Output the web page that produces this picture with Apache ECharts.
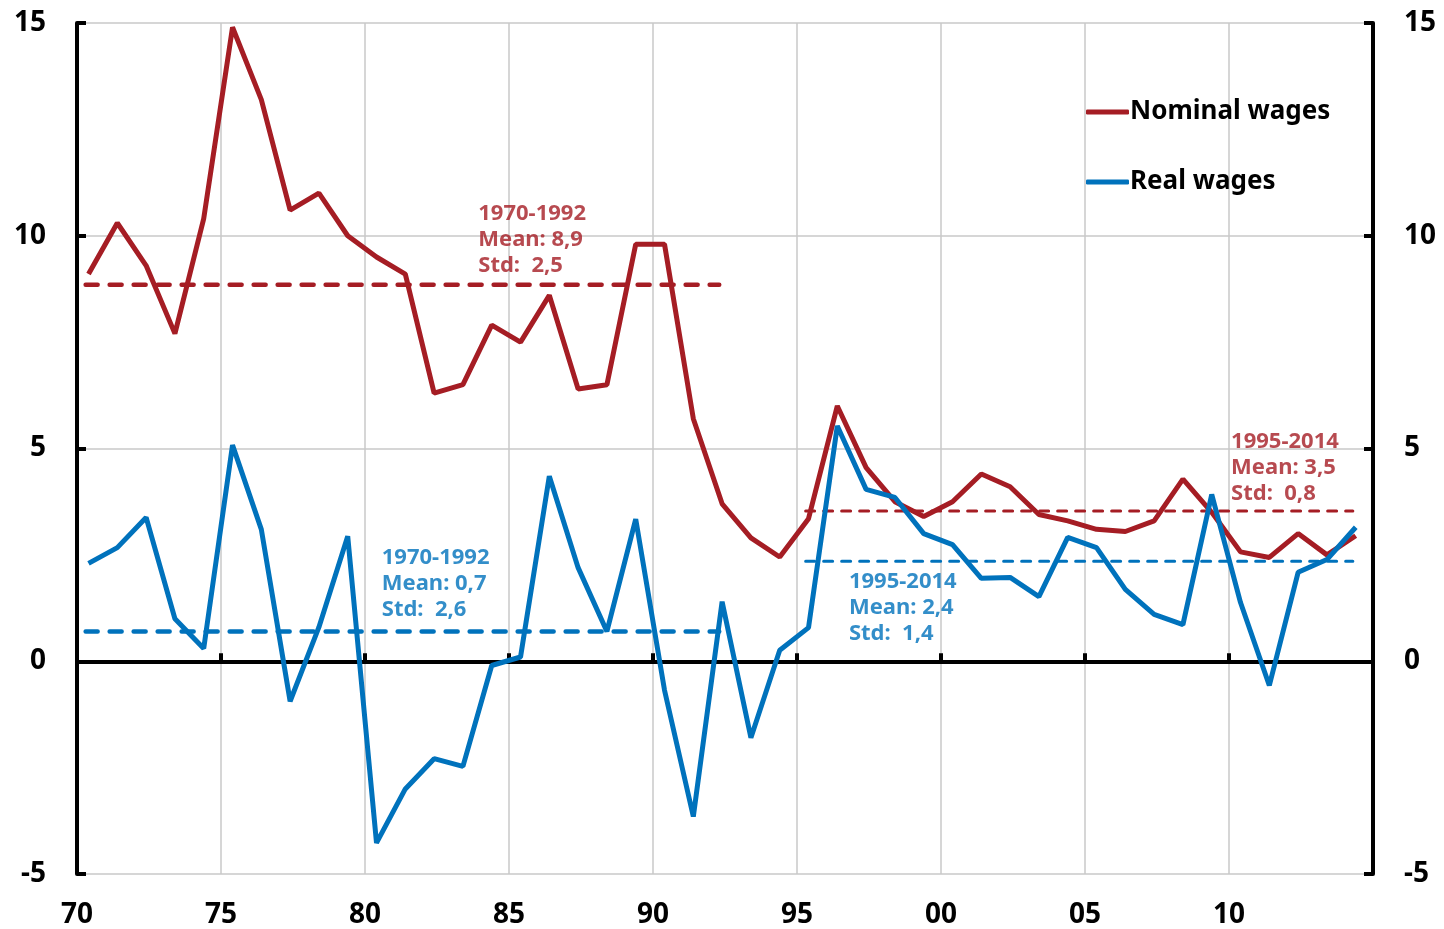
<!DOCTYPE html>
<html>
<head>
<meta charset="utf-8">
<script src="https://cdn.jsdelivr.net/npm/echarts@6/dist/echarts.min.js"></script>
<style>
  html, body { margin: 0; padding: 0; background: #fff; }
  #chart { width: 1444px; height: 929px; }
</style>
</head>
<body>
<div id="chart"></div>
<script>
// annual wage growth, %
const years = [
  1970, 1971, 1972, 1973, 1974, 1975, 1976, 1977, 1978, 1979,
  1980, 1981, 1982, 1983, 1984, 1985, 1986, 1987, 1988, 1989,
  1990, 1991, 1992, 1993, 1994, 1995, 1996, 1997, 1998, 1999,
  2000, 2001, 2002, 2003, 2004, 2005, 2006, 2007, 2008, 2009,
  2010, 2011, 2012, 2013, 2014
]
const nominalWages = [
  9.1, 10.3, 9.3, 7.7, 10.4, 14.9, 13.2, 10.6, 11.0, 10.0,
  9.5, 9.1, 6.3, 6.5, 7.9, 7.5, 8.6, 6.4, 6.5, 9.8,
  9.8, 5.7, 3.7, 2.9, 2.45, 3.35, 6.0, 4.55, 3.75, 3.4,
  3.75, 4.4, 4.1, 3.45, 3.3, 3.1, 3.05, 3.3, 4.28, 3.5,
  2.57, 2.44, 3.0, 2.5, 2.95
]
const realWages = [
  2.3, 2.67, 3.38, 1.0, 0.3, 5.08, 3.1, -0.94, 0.8, 2.94,
  -4.27, -3.0, -2.29, -2.47, -0.1, 0.1, 4.35, 2.2, 0.7, 3.34,
  -0.68, -3.65, 1.4, -1.8, 0.26, 0.79, 5.53, 4.04, 3.85, 3.0,
  2.74, 1.95, 1.97, 1.52, 2.91, 2.67, 1.69, 1.1, 0.86, 3.92,
  1.38, -0.57, 2.09, 2.39, 3.15
]

// sub-period means
const periods = [[1970, 1992], [1995, 2014]]
const nominalMeans = [8.85, 3.53]
const realMeans = [0.7, 2.35]
const nominalNotes = ["1970-1992\nMean: 8,9\nStd:  2,5", "1995-2014\nMean: 3,5\nStd:  0,8"]
const realNotes = ["1970-1992\nMean: 0,7\nStd:  2,6", "1995-2014\nMean: 2,4\nStd:  1,4"]
// where each note's top-left corner sits, in data units
const nominalNoteAt = [[1983.95, 10.8], [2010.09, 5.46]]
const realNoteAt = [[1980.6, 2.72], [1996.82, 2.17]]

const yTicks = [-5, 0, 5, 10, 15]

const RED = "#a51d24"
const BLUE = "#0072bc"
const FONT = "Noto Sans"
const SHIFT = 0.4 // annual points sit a bit into the year

const chart = echarts.init(document.getElementById("chart"))

const pts = (vals) => years.map((y, i) => [y + SHIFT, vals[i]])

const meanSeries = (name, means, color, idx, width, dash) => ({
  name: name,
  type: "line",
  symbol: "none",
  silent: true,
  z: 1,
  lineStyle: { color: color, width: width, type: dash, cap: "round" },
  data: [
    [periods[idx][0] + SHIFT - 0.1, means[idx]],
    [periods[idx][1] + SHIFT - 0.1, means[idx]],
  ],
})

const noteSeries = (notes, at, color) => ({
  type: "scatter",
  symbolSize: 1,
  silent: true,
  itemStyle: { color: "rgba(0,0,0,0)" },
  label: {
    show: true,
    position: [0, 0],
    align: "left",
    verticalAlign: "top",
    color: color,
    fontFamily: FONT,
    fontWeight: "bold",
    fontSize: 22,
    lineHeight: 26,
    formatter: (p) => notes[p.dataIndex],
  },
  data: at,
})

const yAxisBase = {
  type: "value",
  min: yTicks[0],
  max: yTicks[yTicks.length - 1],
  interval: 5,
  axisLine: { show: true, onZero: false, lineStyle: { color: "#000", width: 4 } },
  axisTick: { show: true, inside: true, length: 9, lineStyle: { color: "#000", width: 4 } },
  axisLabel: { color: "#000", fontFamily: FONT, fontWeight: "bold", fontSize: 28, margin: 31 },
}

const option = {
  animation: false,
  backgroundColor: "#fff",
  grid: { left: 77, right: 71, top: 23, bottom: 54 },
  legend: {
    data: ["Nominal wages", "Real wages"],
    orient: "vertical",
    left: 1086,
    top: 99,
    padding: 0,
    icon: "roundRect",
    itemWidth: 43,
    itemHeight: 5,
    itemGap: 44,
    textStyle: { color: "#000", fontFamily: FONT, fontWeight: "bold", fontSize: 26, padding: [0, 0, 0, -4] },
  },
  xAxis: [
    {
      type: "value",
      position: "bottom",
      min: 1970,
      max: 2015,
      interval: 5,
      axisLine: { show: false, onZero: false },
      axisTick: { show: false },
      axisLabel: {
        color: "#000",
        fontFamily: FONT,
        fontWeight: "bold",
        fontSize: 28,
        margin: 27,
        formatter: (v) => (v >= 2015 ? "" : String(v).slice(2)),
      },
      splitLine: { show: true, lineStyle: { color: "#c8c8c8", width: 1.5 } },
    },
    {
      type: "value",
      position: "bottom",
      min: 1970,
      max: 2015,
      interval: 5,
      axisLine: { show: true, onZero: true, lineStyle: { color: "#000", width: 4 } },
      axisTick: { show: true, inside: true, length: 8, lineStyle: { color: "#000", width: 4 } },
      axisLabel: { show: false },
      splitLine: { show: false },
    },
  ],
  yAxis: [
    {
      ...yAxisBase,
      position: "left",
      splitLine: { show: true, lineStyle: { color: "#c8c8c8", width: 1.5 } },
    },
    {
      ...yAxisBase,
      position: "right",
      splitLine: { show: false },
    },
  ],
  series: [
    meanSeries("nominal mean 1", nominalMeans, RED, 0, 4.5, [12, 12]),
    meanSeries("real mean 1", realMeans, BLUE, 0, 4.5, [12, 12]),
    meanSeries("nominal mean 2", nominalMeans, RED, 1, 3, [9, 9]),
    meanSeries("real mean 2", realMeans, BLUE, 1, 3, [9, 9]),
    {
      name: "Nominal wages",
      type: "line",
      symbol: "none",
      z: 3,
      lineStyle: { color: RED, width: 5 },
      itemStyle: { color: RED },
      data: pts(nominalWages),
    },
    {
      name: "Real wages",
      type: "line",
      symbol: "none",
      z: 4,
      lineStyle: { color: BLUE, width: 5 },
      itemStyle: { color: BLUE },
      data: pts(realWages),
    },
    noteSeries(nominalNotes, nominalNoteAt, RED),
    noteSeries(realNotes, realNoteAt, BLUE),
  ],
}

chart.setOption(option)
</script>
</body>
</html>
